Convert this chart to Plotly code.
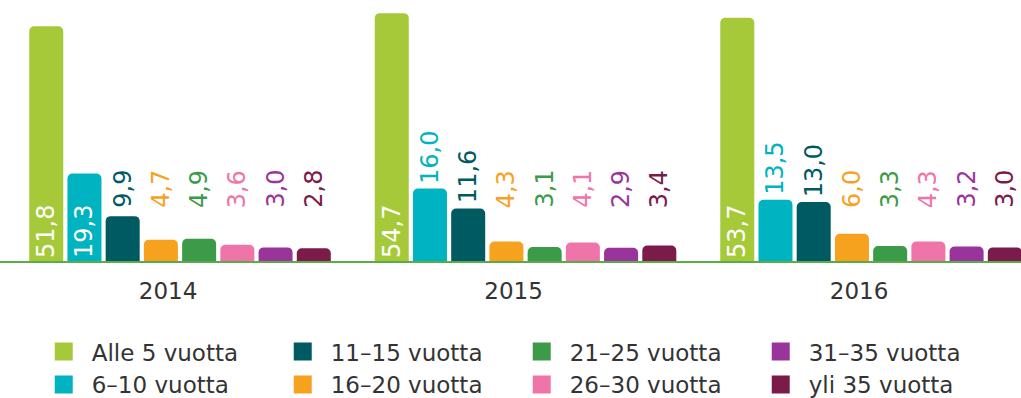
import plotly.graph_objects as go

# Share of employees by length of service (%), per year
years = ["2014", "2015", "2016"]
series_names = ["Alle 5 vuotta", "6–10 vuotta", "11–15 vuotta", "16–20 vuotta",
                "21–25 vuotta", "26–30 vuotta", "31–35 vuotta", "yli 35 vuotta"]

alle_5 = [51.8, 54.7, 53.7]
v6_10 = [19.3, 16.0, 13.5]
v11_15 = [9.9, 11.6, 13.0]
v16_20 = [4.7, 4.3, 6.0]
v21_25 = [4.9, 3.1, 3.3]
v26_30 = [3.6, 4.1, 4.3]
v31_35 = [3.0, 2.9, 3.2]
yli_35 = [2.8, 3.4, 3.0]

series_values = [alle_5, v6_10, v11_15, v16_20, v21_25, v26_30, v31_35, yli_35]
colors = ["#a6c939", "#00b3c0", "#005a62", "#f7a21f",
          "#3c9b48", "#ef75a9", "#99349a", "#7b1b4a"]

FONT = "DejaVu Sans, Verdana, sans-serif"
BARGAP = 0.115
BARGROUPGAP = 0.11
INSIDE_MIN = 19.0      # values at least this large are labelled inside the bar
LABEL_FLOOR = 10.6     # outside labels never sit lower than this level
N = len(series_names)


def fmt(v):
    return f"{v:.1f}".replace(".", ",")


fig = go.Figure()
annotations = []
slot = (1 - BARGAP) / N

for k, (name, vals, col) in enumerate(zip(series_names, series_values, colors)):
    inside_text = [fmt(v) if v >= INSIDE_MIN else "" for v in vals]
    fig.add_trace(go.Bar(
        x=years, y=vals, name=name, showlegend=False,
        marker=dict(color=col, cornerradius=5, line=dict(width=0)),
        text=inside_text, textposition="inside", insidetextanchor="start",
        textangle=-90, constraintext="none",
        insidetextfont=dict(family=FONT, size=24, color="white"),
        hoverinfo="skip",
    ))
    # legend entry with a larger square swatch
    fig.add_trace(go.Scatter(
        x=[None], y=[None], mode="markers", name=name,
        marker=dict(symbol="square", size=16, color=col, line=dict(color=col, width=2)),
        legendrank=(k % 2) * 10 + k // 2, hoverinfo="skip",
    ))
    offset = -(1 - BARGAP) / 2 + slot * (k + 0.5)
    for i, v in enumerate(vals):
        if v >= INSIDE_MIN:
            continue
        annotations.append(dict(
            x=i + offset, y=max(v, LABEL_FLOOR), xref="x", yref="y",
            text=fmt(v), textangle=-90, showarrow=False,
            xanchor="center", yanchor="bottom", yshift=3,
            font=dict(family=FONT, size=24, color=col),
        ))

fig.update_layout(
    width=1021, height=398,
    margin=dict(l=0, r=0, t=0, b=137, autoexpand=False),
    paper_bgcolor="white", plot_bgcolor="white",
    barmode="group", bargap=BARGAP, bargroupgap=BARGROUPGAP,
    font=dict(family=FONT, size=23, color="#333333"),
    annotations=annotations,
    showlegend=True,
    legend=dict(
        orientation="h", x=0.035, xanchor="left", y=-0.265, yanchor="top",
        entrywidth=178, itemwidth=46, traceorder="normal",
        font=dict(family=FONT, size=23, color="#333333"),
        bgcolor="rgba(0,0,0,0)",
    ),
)
fig.update_xaxes(
    type="category", range=[-0.521, 2.434],
    showline=True, linecolor="#5aac48", linewidth=2,
    showgrid=False, zeroline=False, ticks="",
    ticklabelstandoff=8, ticklabelshift=-12,
    tickfont=dict(family=FONT, size=23, color="#333333"),
)
fig.update_yaxes(range=[0, 57.6], visible=False, showgrid=False, zeroline=False)

fig.write_html("out.html")
